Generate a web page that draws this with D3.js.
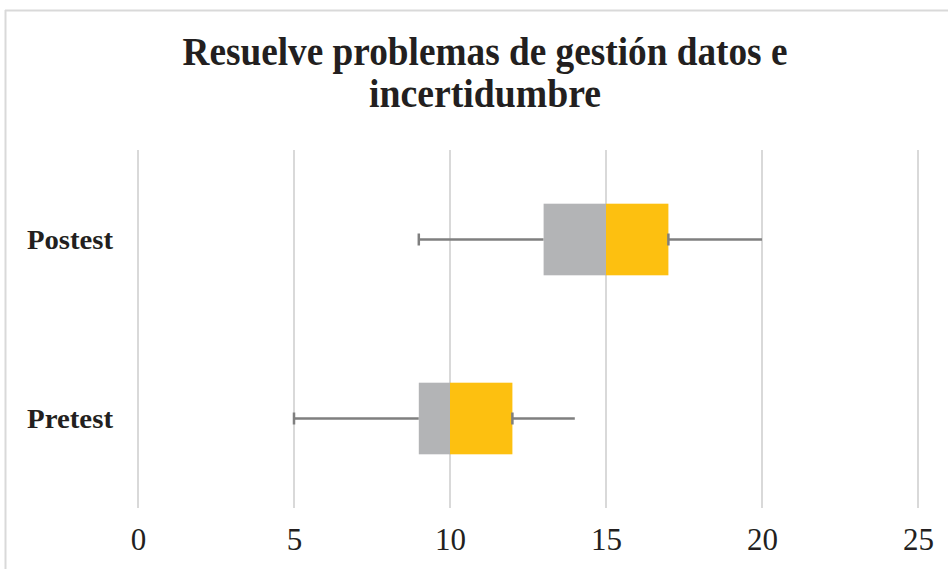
<!DOCTYPE html>
<html>
<head>
<meta charset="utf-8">
<script src="https://cdn.jsdelivr.net/npm/d3@7"></script>
<style>
  html, body { margin: 0; padding: 0; background: #fff; }
  svg { display: block; }
</style>
</head>
<body>
<svg id="chart" width="948" height="569"></svg>
<script>
const titleLines = ["Resuelve problemas de gestión datos e", "incertidumbre"];
const categories = ["Postest", "Pretest"];
const minVals = [9, 5];
const q1Vals = [13, 9];
const medianVals = [15, 10];
const q3Vals = [17, 12];
const maxVals = [20, 14];
const tickValues = [0, 5, 10, 15, 20, 25];

const svg = d3.select("#chart");
const serif = "'Liberation Serif', 'Times New Roman', serif";

// chart border
svg.append("line").attr("x1", 5).attr("x2", 948).attr("y1", 10.5).attr("y2", 10.5)
  .attr("stroke", "#d9d9d9").attr("stroke-width", 2);
svg.append("line").attr("x1", 5.5).attr("x2", 5.5).attr("y1", 10).attr("y2", 569)
  .attr("stroke", "#d9d9d9").attr("stroke-width", 2);

// title
const titleWidths = [605, 232];
titleLines.forEach((t, i) => {
  svg.append("text")
    .attr("x", 485).attr("y", 65 + i * 42)
    .attr("text-anchor", "middle")
    .attr("font-family", serif).attr("font-weight", "bold").attr("font-size", 39)
    .attr("fill", "#231f20")
    .attr("textLength", titleWidths[i]).attr("lengthAdjust", "spacingAndGlyphs")
    .text(t);
});

const x = d3.scaleLinear().domain([0, 25]).range([138, 918]);
const y = d3.scaleBand().domain(categories).range([150, 508]).padding(0);

// gridlines
svg.append("g").selectAll("line").data(tickValues).join("line")
  .attr("x1", d => x(d)).attr("x2", d => x(d))
  .attr("y1", 150).attr("y2", 508)
  .attr("stroke", "#d9d9d9").attr("stroke-width", 2);

// x axis labels
const xAxis = d3.axisBottom(x).tickValues(tickValues).tickSize(0).tickPadding(0);
const gx = svg.append("g").attr("transform", "translate(0,528)").call(xAxis);
gx.select(".domain").remove();
gx.selectAll("text").attr("font-family", serif).attr("font-size", 31).attr("fill", "#231f20");

// category labels
svg.append("g").selectAll("text").data(categories).join("text")
  .attr("x", 27).attr("y", d => y(d) + y.bandwidth() / 2 + 9)
  .attr("font-family", serif).attr("font-weight", "bold").attr("font-size", 28)
  .attr("fill", "#231f20")
  .attr("textLength", 86).attr("lengthAdjust", "spacingAndGlyphs")
  .text(d => d);

const data = categories.map((c, i) => ({
  c, min: minVals[i], q1: q1Vals[i], med: medianVals[i], q3: q3Vals[i], max: maxVals[i]
}));

const boxH = y.bandwidth() * 0.4;
const g = svg.append("g");
const whiskerColor = "#7f7f7f";
data.forEach(d => {
  const cy = y(d.c) + y.bandwidth() / 2;
  // whiskers
  g.append("line").attr("x1", x(d.min)).attr("x2", x(d.q1)).attr("y1", cy).attr("y2", cy)
    .attr("stroke", whiskerColor).attr("stroke-width", 2.5);
  g.append("line").attr("x1", x(d.q3)).attr("x2", x(d.max)).attr("y1", cy).attr("y2", cy)
    .attr("stroke", whiskerColor).attr("stroke-width", 2.5);
  // boxes
  g.append("rect").attr("x", x(d.q1)).attr("width", x(d.med) - x(d.q1))
    .attr("y", cy - boxH / 2).attr("height", boxH).attr("fill", "#b3b4b6");
  g.append("rect").attr("x", x(d.med)).attr("width", x(d.q3) - x(d.med))
    .attr("y", cy - boxH / 2).attr("height", boxH).attr("fill", "#fdc010");
  // caps
  [d.min, d.q3].forEach(v => {
    g.append("line").attr("x1", x(v)).attr("x2", x(v)).attr("y1", cy - 6).attr("y2", cy + 6)
      .attr("stroke", whiskerColor).attr("stroke-width", 2.5);
  });
});
</script>
</body>
</html>
